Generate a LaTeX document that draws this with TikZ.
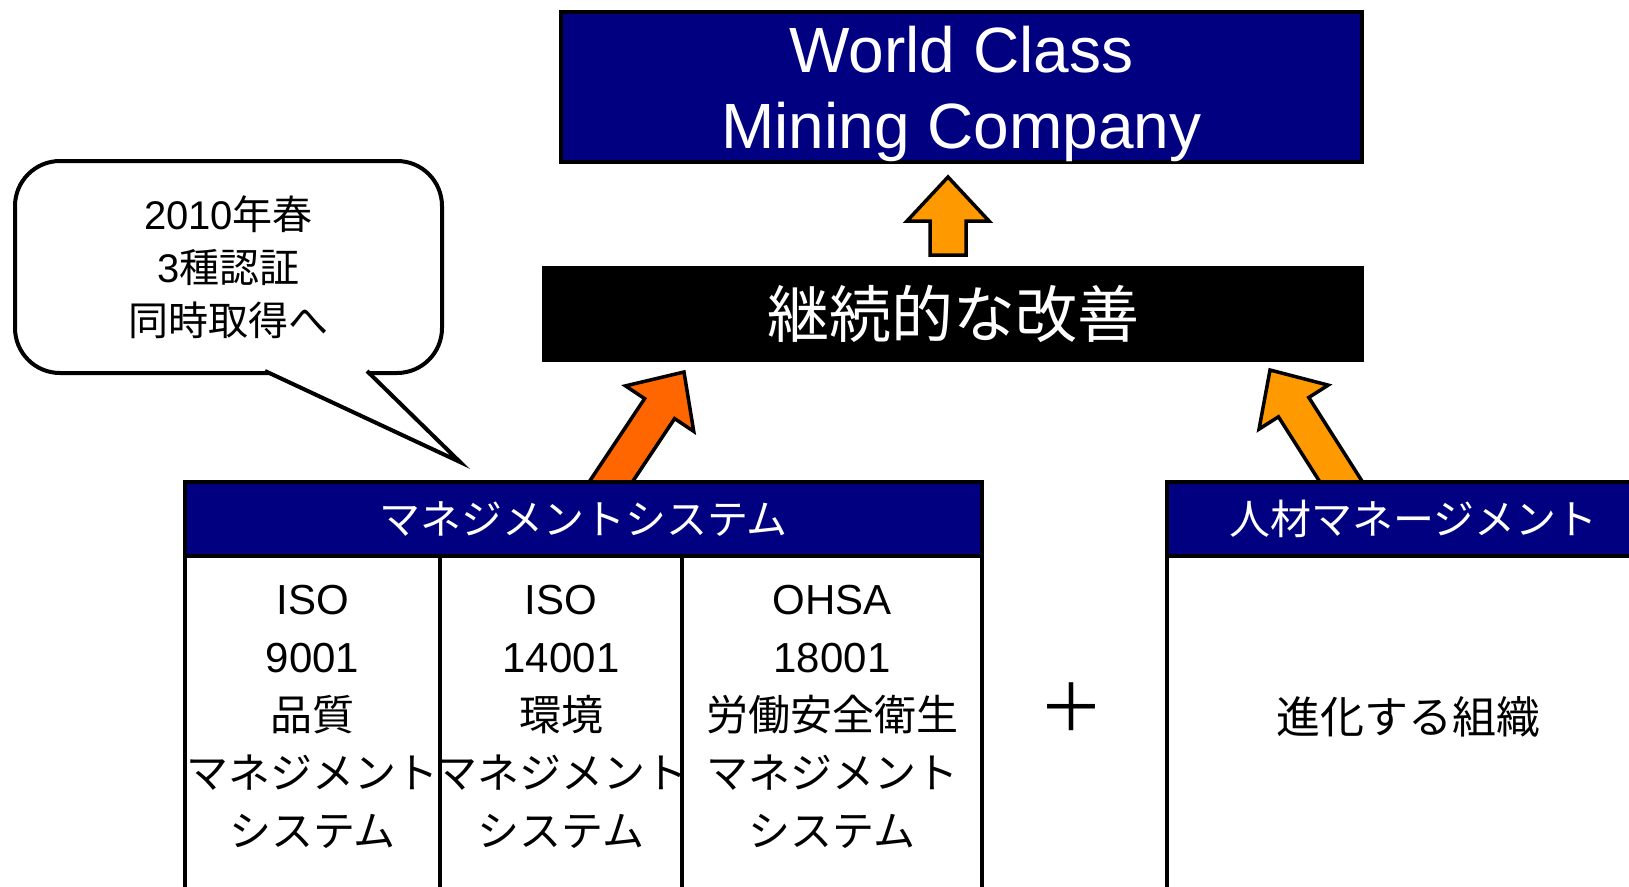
\documentclass[tikz,border=0pt]{standalone}
\usepackage{fontspec}
\setmainfont{Liberation Sans}
\newfontfamily\jp{Noto Sans CJK JP}
\usepackage{tikz}
\usetikzlibrary{positioning,calc,backgrounds}

\definecolor{navyblue}{HTML}{000080}
\definecolor{deeporange}{HTML}{FF6600}
\definecolor{paleorange}{HTML}{FF9900}

% fat outlined arrow from #1 to #2, filled with #3
\newcommand{\blockarrow}[3]{%
  \coordinate (hb) at ($(#2)!44pt!(#1)$);
  \draw[arrowline, fill=#3] ($(#1)!18pt!90:(#2)$) -- ($(hb)!18pt!90:(#2)$)
    -- ($(hb)!41pt!90:(#2)$) -- (#2) -- ($(hb)!41pt!-90:(#2)$)
    -- ($(hb)!18pt!-90:(#2)$) -- ($(#1)!18pt!-90:(#2)$) -- cycle;
}

\begin{document}
\begin{tikzpicture}[x=1pt, y=-1pt,
  every node/.style={outer sep=0pt},
  headbox/.style={draw=black, line width=4pt, fill=navyblue, text=white, inner sep=0pt, align=center},
  cellbox/.style={draw=black, line width=4pt, fill=white, inner sep=0pt},
  celltext/.style={align=center, font=\fontsize{42}{58}\selectfont},
  arrowline/.style={draw=black, line width=3.5pt, line join=miter}]

	\useasboundingbox (0,0) rectangle (1629,886);
	\clip (0,0) rectangle (1629,886);

	% goal and improvement
	\node[headbox, minimum width=801pt, minimum height=150pt, text depth=0pt, font=\fontsize{64}{76}\selectfont] (wcm) at (961.5, 87) {World Class\\Mining Company};
	\node[fill=black, text=white, inner sep=0pt, minimum width=822pt, minimum height=96pt, font=\jp\fontsize{62}{70}\selectfont] (cont) at (953, 314) {継続的な改善};

	% speech bubble
	\node[draw, line width=4pt, fill=white, rounded corners=45pt, minimum width=427pt, minimum height=212pt, align=center, font=\fontsize{40}{53}\selectfont] (callout) at (228.5, 267) {2010{\jp 年春}\\3{\jp 種認証}\\{\jp 同時取得へ}};
	\coordinate (calltip) at ($(callout.south)+(231.5,89)$);
	\filldraw[line width=4pt, line join=miter, fill=white] ($(callout.south)+(36.5,-2)$) -- (calltip) -- ($(callout.south)+(138.5,-2)$);

	% management systems
	\node[headbox, minimum width=797pt, minimum height=74pt, font=\jp\fontsize{41}{50}\selectfont] (mhead) at (583.5, 519) {マネジメントシステム};
	\node[cellbox, minimum width=255pt, minimum height=344pt] (iso9) at (312.5, 728) {};
	\node[cellbox, minimum width=242pt, minimum height=344pt] (iso14) at (561, 728) {};
	\node[cellbox, minimum width=300pt, minimum height=344pt] (ohsa) at (832, 728) {};
	\node[celltext] (t9) at (312.5, 717) {ISO\\9001\\{\jp 品質}\\{\jp マネジメント}\\{\jp システム}};
	\node[celltext] (t14) at (561, 717) {ISO\\14001\\{\jp 環境}\\{\jp マネジメント}\\{\jp システム}};
	\node[celltext] (t18) at (832, 717) {OHSA\\18001\\{\jp 労働安全衛生}\\{\jp マネジメント}\\{\jp システム}};

	\node[font=\jp\fontsize{66}{70}\selectfont] (plus) at (1071, 707) {＋};

	% people
	\node[headbox, minimum width=493pt, minimum height=74pt, font=\jp\fontsize{41}{50}\selectfont] (rhead) at (1413.5, 519) {人材マネージメント};
	\node[cellbox, minimum width=493pt, minimum height=344pt] (org) at (1413.5, 728) {};
	\node[font=\jp\fontsize{44}{50}\selectfont] (orgtext) at (1408, 717) {進化する組織};

	% arrows
	\begin{scope}[on background layer]
		\coordinate (upfoot) at ($(cont.north)+(-5,-11)$);
		\coordinate (uptip) at ($(wcm.south)+(-13.5,15)$);
		\coordinate (lfoot) at ($(mhead.north)+(15.2,18)$);
		\coordinate (ltip) at ($(cont.south)+(-269,10)$);
		\coordinate (rfoot) at ($(rhead.north)+(-60.8,18)$);
		\coordinate (rtip) at ($(cont.south)+(317,8)$);
		\blockarrow{upfoot}{uptip}{paleorange}
		\blockarrow{lfoot}{ltip}{deeporange}
		\blockarrow{rfoot}{rtip}{paleorange}
	\end{scope}
\end{tikzpicture}
\end{document}
